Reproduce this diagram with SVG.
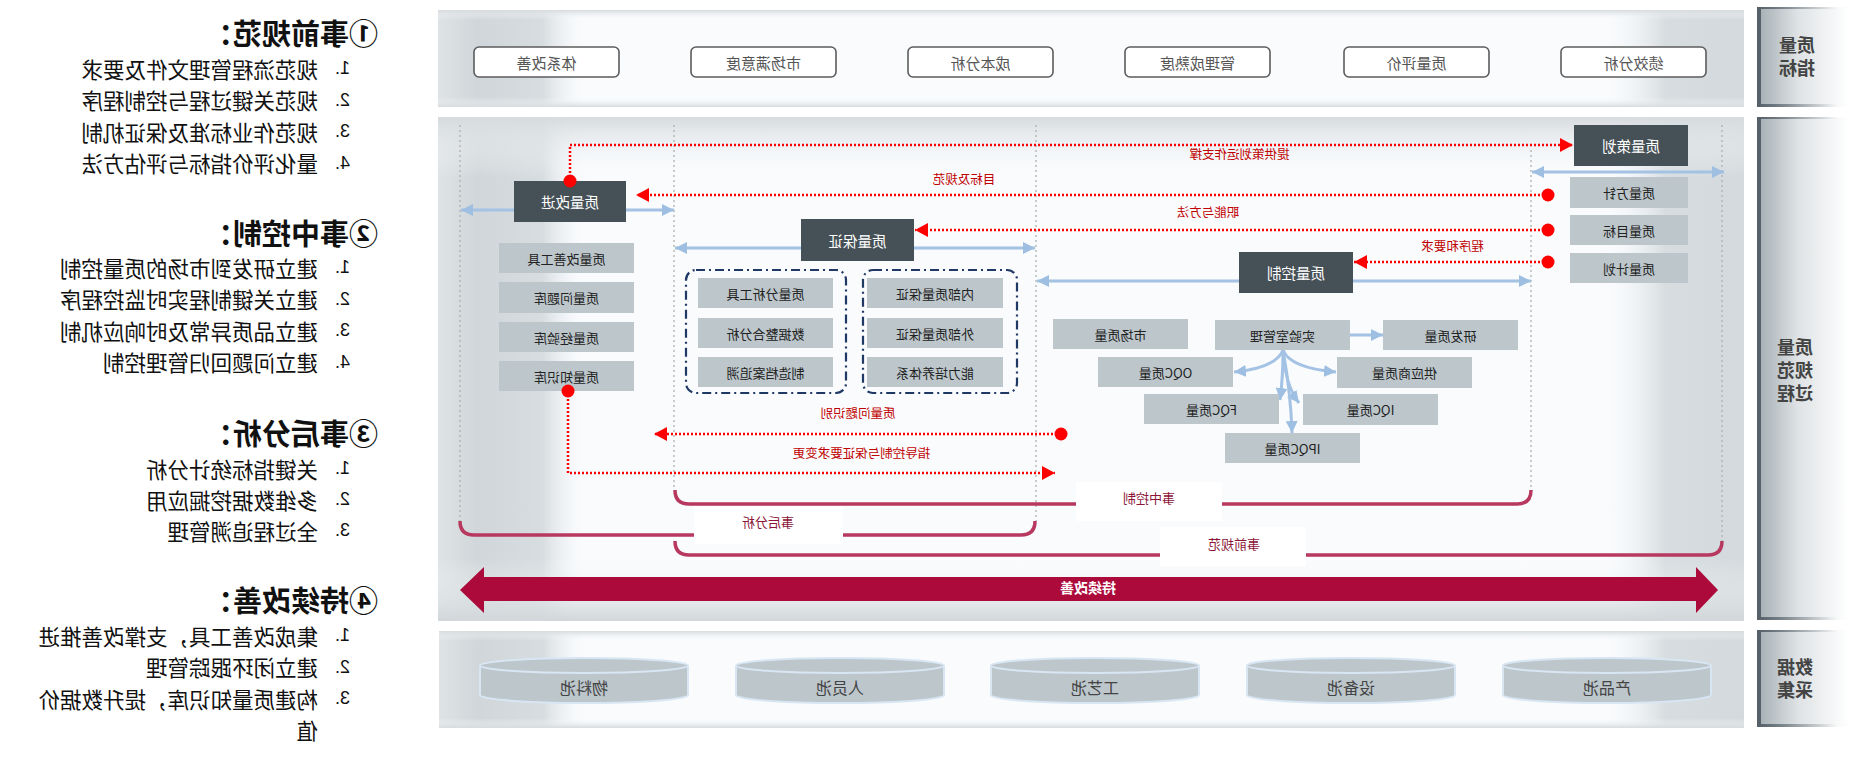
<svg xmlns="http://www.w3.org/2000/svg" width="1849" height="783" viewBox="0 0 1849 783">
<style>
.m{transform:scaleX(-1);transform-box:fill-box;transform-origin:center}
text{font-family:"Noto Sans CJK SC","Noto Sans",sans-serif}
.h{font-size:29px;font-weight:700;fill:#111}
.it{font-size:21.5px;fill:#111}
.num{font-family:"Liberation Sans",sans-serif;font-size:18px;fill:#111}
.tag{fill:#fff;stroke:#5c5c5c;stroke-width:1.6}
.tagt{font-size:15px;fill:#555}
.dk{fill:#465157}
.dkt{font-size:14.5px;fill:#fff}
.lt{fill:#bcc6cb}
.ltt{font-size:13px;fill:#222}
.cyt{font-size:16px;fill:#444}
.lbl{font-size:18px;font-weight:700;fill:#444}
.rt{font-size:12.5px;fill:#c00000}
.bt{font-size:13px;fill:#8b1538}
.gl{stroke:#b0b0b0;stroke-width:1.3;stroke-dasharray:2 3;fill:none}
.bl{stroke:#a4c2e4;stroke-width:3;fill:none}
.rd{stroke:#ff0000;stroke-width:2.5;stroke-dasharray:2 2;fill:none}
.br{stroke:#b8395f;stroke-width:3.5;fill:none}
.dd{fill:none;stroke:#1f3864;stroke-width:2.2;stroke-dasharray:9 4 2 4}
.cy{fill:#bcc6cb;stroke:#d8e6f3;stroke-width:2}
</style>
<defs>
<linearGradient id="fh" x1="0" y1="0" x2="1" y2="0">
<stop offset="0" stop-color="#dfe3e5"/>
<stop offset="0.03" stop-color="#d0d6d9"/>
<stop offset="0.08" stop-color="#d3d9dc" stop-opacity="0.9"/>
<stop offset="0.115" stop-color="#f9fbfd" stop-opacity="0"/>
<stop offset="0.89" stop-color="#f9fbfd" stop-opacity="0"/>
<stop offset="0.94" stop-color="#d3d9dc" stop-opacity="0.9"/>
<stop offset="1" stop-color="#d3d9dc"/>
</linearGradient>
<linearGradient id="fvs" x1="0" y1="0" x2="0" y2="1">
<stop offset="0" stop-color="#d6dbde"/>
<stop offset="0.1" stop-color="#f9fbfd" stop-opacity="0"/>
<stop offset="0.9" stop-color="#f9fbfd" stop-opacity="0"/>
<stop offset="1" stop-color="#d6dbde"/>
</linearGradient>
<linearGradient id="fvm" x1="0" y1="0" x2="0" y2="1">
<stop offset="0" stop-color="#d6dbde"/>
<stop offset="0.12" stop-color="#f9fbfd" stop-opacity="0"/>
<stop offset="0.875" stop-color="#f9fbfd" stop-opacity="0"/>
<stop offset="1" stop-color="#d0d6d9"/>
</linearGradient>
<linearGradient id="lg" x1="0" y1="0" x2="1" y2="0">
<stop offset="0" stop-color="#a3adb2"/>
<stop offset="0.45" stop-color="#dfe3e5"/>
<stop offset="1" stop-color="#ffffff"/>
</linearGradient>
<linearGradient id="lgl" x1="0" y1="0" x2="1" y2="0">
<stop offset="0" stop-color="#56616a"/>
<stop offset="1" stop-color="#56616a" stop-opacity="0"/>
</linearGradient>
<marker id="ab" viewBox="0 0 12 12" refX="12" refY="6" markerWidth="12" markerHeight="12" markerUnits="userSpaceOnUse" orient="auto-start-reverse"><path d="M0,0 L12,6 L0,12 z" fill="#9fbfe2"/></marker>
<marker id="ar" viewBox="0 0 13 14" refX="13" refY="7" markerWidth="13" markerHeight="14" markerUnits="userSpaceOnUse" orient="auto"><path d="M0,0 L13,7 L0,14 z" fill="#ff0000"/></marker>
</defs>
<rect width="1849" height="783" fill="#fff"/>

<!-- left text panel -->
<g id="text-panel">
<text class="h m" x="378" y="32" text-anchor="end" dominant-baseline="central">①事前规范：</text>
<text class="num m" x="350" y="68" text-anchor="end" dominant-baseline="central">1.</text>
<text class="it m" x="318" y="68" text-anchor="end" dominant-baseline="central">规范流程管理文件及要求</text>
<text class="num m" x="350" y="99.5" text-anchor="end" dominant-baseline="central">2.</text>
<text class="it m" x="318" y="99.5" text-anchor="end" dominant-baseline="central">规范关键过程与控制程序</text>
<text class="num m" x="350" y="131" text-anchor="end" dominant-baseline="central">3.</text>
<text class="it m" x="318" y="131" text-anchor="end" dominant-baseline="central">规范作业标准及保证机制</text>
<text class="num m" x="350" y="162.5" text-anchor="end" dominant-baseline="central">4.</text>
<text class="it m" x="318" y="162.5" text-anchor="end" dominant-baseline="central">量化评价指标与评估方法</text>

<text class="h m" x="378" y="232" text-anchor="end" dominant-baseline="central">②事中控制：</text>
<text class="num m" x="350" y="267" text-anchor="end" dominant-baseline="central">1.</text>
<text class="it m" x="318" y="267" text-anchor="end" dominant-baseline="central">建立研发到市场的质量控制</text>
<text class="num m" x="350" y="298.5" text-anchor="end" dominant-baseline="central">2.</text>
<text class="it m" x="318" y="298.5" text-anchor="end" dominant-baseline="central">建立关键制程实时监控程序</text>
<text class="num m" x="350" y="330" text-anchor="end" dominant-baseline="central">3.</text>
<text class="it m" x="318" y="330" text-anchor="end" dominant-baseline="central">建立品质异常及时响应机制</text>
<text class="num m" x="350" y="361.5" text-anchor="end" dominant-baseline="central">4.</text>
<text class="it m" x="318" y="361.5" text-anchor="end" dominant-baseline="central">建立问题回归管理控制</text>

<text class="h m" x="378" y="432" text-anchor="end" dominant-baseline="central">③事后分析：</text>
<text class="num m" x="350" y="468" text-anchor="end" dominant-baseline="central">1.</text>
<text class="it m" x="318" y="468" text-anchor="end" dominant-baseline="central">关键指标统计分析</text>
<text class="num m" x="350" y="499" text-anchor="end" dominant-baseline="central">2.</text>
<text class="it m" x="318" y="499" text-anchor="end" dominant-baseline="central">多维数据挖掘应用</text>
<text class="num m" x="350" y="530" text-anchor="end" dominant-baseline="central">3.</text>
<text class="it m" x="318" y="530" text-anchor="end" dominant-baseline="central">全过程追溯管理</text>

<text class="h m" x="378" y="599" text-anchor="end" dominant-baseline="central">④持续改善：</text>
<text class="num m" x="350" y="635" text-anchor="end" dominant-baseline="central">1.</text>
<text class="it m" x="318" y="635" text-anchor="end" dominant-baseline="central">集成改善工具，支撑改善推进</text>
<text class="num m" x="350" y="666.5" text-anchor="end" dominant-baseline="central">2.</text>
<text class="it m" x="318" y="666.5" text-anchor="end" dominant-baseline="central">建立闭环跟踪管理</text>
<text class="num m" x="350" y="698" text-anchor="end" dominant-baseline="central">3.</text>
<text class="it m" x="318" y="698" text-anchor="end" dominant-baseline="central">构建质量知识库，提升数据价</text>
<text class="it m" x="318" y="729.5" text-anchor="end" dominant-baseline="central">值</text>
</g>

<!-- panels -->
<g id="panels">
<rect x="438" y="10" width="1306" height="97" fill="#f9fbfd"/>
<rect x="438" y="10" width="1306" height="97" fill="url(#fh)"/>
<rect x="438" y="10" width="1306" height="97" fill="url(#fvs)"/>
<rect x="438" y="117" width="1306" height="504" fill="#f9fbfd"/>
<rect x="438" y="117" width="1306" height="504" fill="url(#fh)"/>
<rect x="438" y="117" width="1306" height="504" fill="url(#fvm)"/>
<rect x="439" y="631" width="1305" height="97" fill="#f9fbfd"/>
<rect x="439" y="631" width="1305" height="97" fill="url(#fh)"/>
<rect x="439" y="631" width="1305" height="97" fill="url(#fvs)"/>
</g>

<!-- right labels -->
<g id="label-indicators">
<rect x="1757" y="7" width="92" height="100" fill="url(#lg)"/>
<rect x="1757" y="7" width="4" height="100" fill="#56616a"/>
<rect x="1757" y="7" width="80" height="2" fill="url(#lgl)"/>
<rect x="1757" y="104" width="80" height="3" fill="url(#lgl)"/>
<text class="lbl m" text-anchor="middle"><tspan x="1797" y="52">质量</tspan><tspan x="1797" y="75">指标</tspan></text>
</g>
<g id="label-process">
<rect x="1757" y="117" width="92" height="503" fill="url(#lg)"/>
<rect x="1757" y="117" width="4" height="503" fill="#56616a"/>
<rect x="1757" y="117" width="80" height="2" fill="url(#lgl)"/>
<rect x="1757" y="617" width="80" height="3" fill="url(#lgl)"/>
<text class="lbl m" text-anchor="middle"><tspan x="1795" y="354">质量</tspan><tspan x="1795" y="377">规范</tspan><tspan x="1795" y="400">过程</tspan></text>
</g>
<g id="label-data">
<rect x="1757" y="630" width="92" height="97" fill="url(#lg)"/>
<rect x="1757" y="630" width="4" height="97" fill="#56616a"/>
<rect x="1757" y="630" width="80" height="2" fill="url(#lgl)"/>
<rect x="1757" y="724" width="80" height="3" fill="url(#lgl)"/>
<text class="lbl m" text-anchor="middle"><tspan x="1795" y="674">数据</tspan><tspan x="1795" y="697">采集</tspan></text>
</g>

<!-- indicator tags -->
<g id="tag-tixi"><rect class="tag" x="474" y="47" width="145" height="30" rx="5"/><text class="tagt m" x="546.5" y="62" text-anchor="middle" dominant-baseline="central">体系改善</text></g>
<g id="tag-shichang"><rect class="tag" x="691" y="47" width="145" height="30" rx="5"/><text class="tagt m" x="763.5" y="62" text-anchor="middle" dominant-baseline="central">市场满意度</text></g>
<g id="tag-chengben"><rect class="tag" x="908" y="47" width="145" height="30" rx="5"/><text class="tagt m" x="980.5" y="62" text-anchor="middle" dominant-baseline="central">成本分析</text></g>
<g id="tag-guanli"><rect class="tag" x="1125" y="47" width="145" height="30" rx="5"/><text class="tagt m" x="1197.5" y="62" text-anchor="middle" dominant-baseline="central">管理成熟度</text></g>
<g id="tag-pingjia"><rect class="tag" x="1344" y="47" width="145" height="30" rx="5"/><text class="tagt m" x="1416.5" y="62" text-anchor="middle" dominant-baseline="central">质量评价</text></g>
<g id="tag-jixiao"><rect class="tag" x="1561" y="47" width="145" height="30" rx="5"/><text class="tagt m" x="1633.5" y="62" text-anchor="middle" dominant-baseline="central">绩效分析</text></g>

<!-- connectors -->
<g id="connectors">
<path class="gl" d="M460,125 V521"/>
<path class="gl" d="M674,125 V490"/>
<path class="gl" d="M1036,125 V521"/>
<path class="gl" d="M1531,150 V490"/>
<path class="gl" d="M1722,125 V541"/>

<path class="br" d="M460,521 Q460,535 474,535 H1021 Q1035,535 1035,521"/>
<path class="br" d="M675,490 Q675,504 689,504 H1517 Q1531,504 1531,490"/>
<path class="br" d="M675,541 Q675,555 689,555 H1708 Q1722,555 1722,541"/>

<path class="bl" d="M461,210 H674" marker-start="url(#ab)" marker-end="url(#ab)"/>
<path class="bl" d="M675,248 H1035" marker-start="url(#ab)" marker-end="url(#ab)"/>
<path class="bl" d="M1037,281 H1531" marker-start="url(#ab)" marker-end="url(#ab)"/>
<path class="bl" d="M1532,172 H1724" marker-start="url(#ab)" marker-end="url(#ab)"/>

<path class="bl" d="M1350,335 H1383" marker-end="url(#ab)"/>
<path class="bl" d="M1283,350 Q1276,368 1234,372" marker-end="url(#ab)"/>
<path class="bl" d="M1283,350 Q1290,368 1336,372" marker-end="url(#ab)"/>
<path class="bl" d="M1283,350 Q1283,378 1280,400" marker-end="url(#ab)"/>
<path class="bl" d="M1283,350 Q1285,385 1299,403" marker-end="url(#ab)"/>
<path class="bl" d="M1283,350 Q1291,395 1292,433" marker-end="url(#ab)"/>
</g>

<!-- bracket labels -->
<g id="label-shihou"><rect x="694" y="506" width="149" height="38" fill="#fff"/><text class="bt m" x="768" y="521" text-anchor="middle" dominant-baseline="central">事后分析</text></g>
<g id="label-shizhong"><rect x="1076" y="482" width="146" height="39" fill="#fff"/><text class="bt m" x="1149" y="497" text-anchor="middle" dominant-baseline="central">事中控制</text></g>
<g id="label-shiqian"><rect x="1160" y="527" width="146" height="39" fill="#fff"/><text class="bt m" x="1234" y="543" text-anchor="middle" dominant-baseline="central">事前规范</text></g>

<!-- nodes -->
<g id="node-gaijin"><rect class="dk" x="514" y="181" width="112" height="41"/><text class="dkt m" x="570" y="201.5" text-anchor="middle" dominant-baseline="central">质量改进</text></g>
<g id="node-baozheng"><rect class="dk" x="801" y="219" width="113" height="42"/><text class="dkt m" x="857.5" y="240" text-anchor="middle" dominant-baseline="central">质量保证</text></g>
<g id="node-kongzhi"><rect class="dk" x="1239" y="252" width="114" height="41"/><text class="dkt m" x="1296" y="272.5" text-anchor="middle" dominant-baseline="central">质量控制</text></g>
<g id="node-cehua"><rect class="dk" x="1574" y="125" width="114" height="41"/><text class="dkt m" x="1631" y="145.5" text-anchor="middle" dominant-baseline="central">质量策划</text></g>

<g id="n-gsgj"><rect class="lt" x="499" y="243" width="135" height="30"/><text class="ltt m" x="566.5" y="258" text-anchor="middle" dominant-baseline="central">质量改善工具</text></g>
<g id="n-wtk"><rect class="lt" x="499" y="282" width="135" height="31"/><text class="ltt m" x="566.5" y="297.5" text-anchor="middle" dominant-baseline="central">质量问题库</text></g>
<g id="n-jyk"><rect class="lt" x="499" y="322" width="135" height="30"/><text class="ltt m" x="566.5" y="337" text-anchor="middle" dominant-baseline="central">质量经验库</text></g>
<g id="n-zsk"><rect class="lt" x="499" y="361" width="135" height="30"/><text class="ltt m" x="566.5" y="376" text-anchor="middle" dominant-baseline="central">质量知识库</text></g>

<g id="grp-analysis">
<rect class="dd" x="686" y="270" width="160" height="123" rx="10"/>
<g id="n-fxgj"><rect class="lt" x="698" y="278" width="135" height="30"/><text class="ltt m" x="765.5" y="293" text-anchor="middle" dominant-baseline="central">质量分析工具</text></g>
<g id="n-sjzh"><rect class="lt" x="698" y="318" width="135" height="30"/><text class="ltt m" x="765.5" y="333" text-anchor="middle" dominant-baseline="central">数据整合分析</text></g>
<g id="n-zzda"><rect class="lt" x="698" y="357" width="135" height="30"/><text class="ltt m" x="765.5" y="372" text-anchor="middle" dominant-baseline="central">制造档案追溯</text></g>
</g>
<g id="grp-assure">
<rect class="dd" x="863" y="270" width="154" height="123" rx="10"/>
<g id="n-nbbz"><rect class="lt" x="867" y="278" width="136" height="30"/><text class="ltt m" x="935" y="293" text-anchor="middle" dominant-baseline="central">内部质量保证</text></g>
<g id="n-wbbz"><rect class="lt" x="867" y="318" width="136" height="30"/><text class="ltt m" x="935" y="333" text-anchor="middle" dominant-baseline="central">外部质量保证</text></g>
<g id="n-nlpy"><rect class="lt" x="867" y="357" width="136" height="30"/><text class="ltt m" x="935" y="372" text-anchor="middle" dominant-baseline="central">能力培养体系</text></g>
</g>

<g id="n-fz"><rect class="lt" x="1570" y="177" width="118" height="31"/><text class="ltt m" x="1629" y="192.5" text-anchor="middle" dominant-baseline="central">质量方针</text></g>
<g id="n-mb"><rect class="lt" x="1570" y="215" width="118" height="30"/><text class="ltt m" x="1629" y="230" text-anchor="middle" dominant-baseline="central">质量目标</text></g>
<g id="n-jh"><rect class="lt" x="1570" y="253" width="118" height="30"/><text class="ltt m" x="1629" y="268" text-anchor="middle" dominant-baseline="central">质量计划</text></g>

<g id="n-sc"><rect class="lt" x="1053" y="319" width="135" height="30"/><text class="ltt m" x="1120.5" y="334" text-anchor="middle" dominant-baseline="central">市场质量</text></g>
<g id="n-sys"><rect class="lt" x="1215" y="320" width="135" height="30"/><text class="ltt m" x="1282.5" y="335" text-anchor="middle" dominant-baseline="central">实验室管理</text></g>
<g id="n-yf"><rect class="lt" x="1383" y="320" width="135" height="30"/><text class="ltt m" x="1450.5" y="335" text-anchor="middle" dominant-baseline="central">研发质量</text></g>
<g id="n-oqc"><rect class="lt" x="1098" y="357" width="135" height="30"/><text class="ltt m" x="1165.5" y="372" text-anchor="middle" dominant-baseline="central">OQC质量</text></g>
<g id="n-gys"><rect class="lt" x="1337" y="357" width="135" height="31"/><text class="ltt m" x="1404.5" y="372.5" text-anchor="middle" dominant-baseline="central">供应商质量</text></g>
<g id="n-fqc"><rect class="lt" x="1144" y="394" width="135" height="30"/><text class="ltt m" x="1211.5" y="409" text-anchor="middle" dominant-baseline="central">FQC质量</text></g>
<g id="n-iqc"><rect class="lt" x="1303" y="394" width="135" height="31"/><text class="ltt m" x="1370.5" y="409.5" text-anchor="middle" dominant-baseline="central">IQC质量</text></g>
<g id="n-ipqc"><rect class="lt" x="1225" y="433" width="135" height="30"/><text class="ltt m" x="1292.5" y="448" text-anchor="middle" dominant-baseline="central">IPQC质量</text></g>

<!-- red flows -->
<g id="red-flows">
<path class="rd" d="M570,181 V145 H1573" marker-end="url(#ar)"/>
<circle cx="570" cy="181" r="6.5" fill="#ff0000"/>
<text class="rt m" x="1239" y="153" text-anchor="middle" dominant-baseline="central">提供策划运作支撑</text>
<path class="rd" d="M1548,195 H636" marker-end="url(#ar)"/>
<circle cx="1548" cy="195" r="6.5" fill="#ff0000"/>
<text class="rt m" x="964" y="178" text-anchor="middle" dominant-baseline="central">目标及规范</text>
<path class="rd" d="M1548,230 H915" marker-end="url(#ar)"/>
<circle cx="1548" cy="230" r="6.5" fill="#ff0000"/>
<text class="rt m" x="1208" y="211" text-anchor="middle" dominant-baseline="central">职能与方法</text>
<path class="rd" d="M1548,262 H1354" marker-end="url(#ar)"/>
<circle cx="1548" cy="262" r="6.5" fill="#ff0000"/>
<text class="rt m" x="1452" y="245" text-anchor="middle" dominant-baseline="central">程序和要求</text>
<path class="rd" d="M1061,434 H654" marker-end="url(#ar)"/>
<circle cx="1061" cy="434" r="6.5" fill="#ff0000"/>
<text class="rt m" x="858" y="412" text-anchor="middle" dominant-baseline="central">质量问题识别</text>
<path class="rd" d="M568,391 V473 H1055" marker-end="url(#ar)"/>
<circle cx="568" cy="391" r="6.5" fill="#ff0000"/>
<text class="rt m" x="861" y="452" text-anchor="middle" dominant-baseline="central">指导控制与保证要求变更</text>
</g>

<!-- continuous improvement -->
<g id="continuous">
<polygon points="460,590 484,567 484,577 1696,577 1696,567 1718,590 1696,613 1696,601 484,601 484,613" fill="#ad0a3c"/>
<text class="m" x="1088" y="587" text-anchor="middle" dominant-baseline="central" font-size="14" font-weight="700" fill="#fff">持续改善</text>
</g>

<!-- data pools -->
<g id="pool-wuliao"><path class="cy" d="M480,666 V695 A104,8 0 0 0 688,695 V666"/><ellipse class="cy" cx="584" cy="665.5" rx="104" ry="7.5" fill="#c2cbd0"/><text class="cyt m" x="584" y="687" text-anchor="middle" dominant-baseline="central">物料池</text></g>
<g id="pool-renyuan"><path class="cy" d="M736,666 V695 A104,8 0 0 0 944,695 V666"/><ellipse class="cy" cx="840" cy="665.5" rx="104" ry="7.5" fill="#c2cbd0"/><text class="cyt m" x="840" y="687" text-anchor="middle" dominant-baseline="central">人员池</text></g>
<g id="pool-gongyi"><path class="cy" d="M991,666 V695 A104,8 0 0 0 1199,695 V666"/><ellipse class="cy" cx="1095" cy="665.5" rx="104" ry="7.5" fill="#c2cbd0"/><text class="cyt m" x="1095" y="687" text-anchor="middle" dominant-baseline="central">工艺池</text></g>
<g id="pool-shebei"><path class="cy" d="M1247,666 V695 A104,8 0 0 0 1455,695 V666"/><ellipse class="cy" cx="1351" cy="665.5" rx="104" ry="7.5" fill="#c2cbd0"/><text class="cyt m" x="1351" y="687" text-anchor="middle" dominant-baseline="central">设备池</text></g>
<g id="pool-chanpin"><path class="cy" d="M1503,666 V695 A104,8 0 0 0 1711,695 V666"/><ellipse class="cy" cx="1607" cy="665.5" rx="104" ry="7.5" fill="#c2cbd0"/><text class="cyt m" x="1607" y="687" text-anchor="middle" dominant-baseline="central">产品池</text></g>
</svg>
